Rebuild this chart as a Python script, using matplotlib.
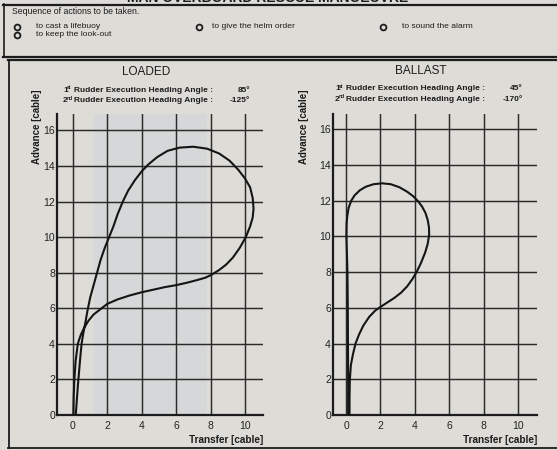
import matplotlib
matplotlib.use('Agg')
import matplotlib.pyplot as plt
from matplotlib.lines import Line2D

plt.rcParams['font.family'] = ['Liberation Sans', 'DejaVu Sans']

# ---------------- data ----------------
loaded_transfer = [0.02, 0.04, 0.08, 0.15, 0.28, 0.45, 0.65, 0.9, 1.2, 1.6, 2.0, 2.6, 3.3, 4.0,
                   4.7, 5.3, 6.0, 6.6, 7.2, 7.7, 8.05, 8.5, 8.9, 9.3, 9.7, 10.05, 10.3, 10.45,
                   10.5, 10.45, 10.3, 10.0, 9.6, 9.1, 8.5, 7.8, 7.0, 6.2, 5.5, 4.9, 4.4, 4.0,
                   3.6, 3.2, 2.9, 2.6, 2.35, 2.1, 1.85, 1.6, 1.4, 1.2, 1.0, 0.85, 0.72, 0.6,
                   0.5, 0.42, 0.35, 0.28, 0.22, 0.16]
loaded_advance = [0.0, 1.0, 2.0, 3.0, 4.0, 4.5, 4.9, 5.3, 5.65, 5.95, 6.25, 6.5, 6.72, 6.9,
                  7.05, 7.18, 7.3, 7.43, 7.58, 7.72, 7.88, 8.15, 8.45, 8.85, 9.4, 10.0, 10.6, 11.1,
                  11.6, 12.2, 12.8, 13.3, 13.8, 14.3, 14.7, 14.97, 15.08, 15.03, 14.85, 14.5, 14.1, 13.7,
                  13.2, 12.6, 12.0, 11.3, 10.6, 10.0, 9.4, 8.7, 8.0, 7.3, 6.6, 5.9, 5.2, 4.6,
                  4.0, 3.2, 2.4, 1.6, 0.8, 0.0]

ballast_transfer = [0.2, 0.2, 0.22, 0.28, 0.4, 0.55, 0.75, 1.0, 1.35, 1.7, 2.0, 2.4, 2.8, 3.2,
                    3.55, 3.85, 4.1, 4.35, 4.6, 4.75, 4.83, 4.82, 4.75, 4.62, 4.43, 4.2, 3.9, 3.55,
                    3.1, 2.6, 2.1, 1.6, 1.15, 0.8, 0.5, 0.3, 0.15, 0.07, 0.03, 0.02, 0.05, 0.08,
                    0.1, 0.11, 0.12, 0.12]
ballast_advance = [0.0, 1.0, 2.0, 2.8, 3.4, 4.0, 4.5, 5.0, 5.5, 5.85, 6.05, 6.3, 6.55, 6.85,
                   7.2, 7.6, 8.0, 8.5, 9.1, 9.6, 10.1, 10.5, 10.9, 11.3, 11.65, 11.95, 12.25, 12.5,
                   12.75, 12.92, 12.97, 12.92, 12.78, 12.58, 12.3, 12.0, 11.6, 11.15, 10.7, 10.0, 9.0, 8.0,
                   6.0, 4.0, 2.0, 0.0]

x_ticks = [0, 2, 4, 6, 8, 10]
y_ticks = [0, 2, 4, 6, 8, 10, 12, 14, 16]
panel_titles = ['LOADED', 'BALLAST']
first_angles = ['85°', '45°']
second_angles = ['-125°', '-170°']
actions = ['to cast a lifebuoy', 'to give the helm order', 'to sound the alarm', 'to keep the look-out']

# ---------------- layout helpers ----------------
W, H = 557, 450
BG = '#dddcd7'
INK = '#1c1c1c'

fig = plt.figure(figsize=(W / 100, H / 100), dpi=100)
fig.patch.set_facecolor(BG)


def fx(px):
    return px / W


def fy(py):
    return 1 - py / H


def ftext(px, py, s, **kw):
    kw.setdefault('color', INK)
    return fig.text(fx(px), fy(py), s, **kw)


def hline(x0, x1, y, lw=1.3):
    fig.add_artist(Line2D([fx(x0), fx(x1)], [fy(y), fy(y)], color=INK, lw=lw,
                          transform=fig.transFigure))


def vline(x, y0, y1, lw=1.3):
    fig.add_artist(Line2D([fx(x), fx(x)], [fy(y0), fy(y1)], color=INK, lw=lw,
                          transform=fig.transFigure))


# partially visible heading at top (cut by the page edge, as in the scan)
ftext(268, 2.4, 'MAN OVERBOARD RESCUE MANOEUVRE', ha='center', va='baseline',
      fontsize=10, fontweight='bold')

# top box
hline(3, 557, 4.5, lw=1.6)
vline(3.5, 4, 57, lw=1.2)
hline(3, 557, 57, lw=1.6)
ftext(12, 11, 'Sequence of actions to be taken.', ha='left', va='center', fontsize=6.3)
act_pos = [(17, 36, 27), (199, 212, 27), (383, 402, 27), (17, 36, 35)]
for (cx, tx, ty), lab in zip(act_pos, actions):
    fig.add_artist(Line2D([fx(cx)], [fy(ty)], marker='o', ms=4.2, mfc='none', mec=INK,
                          mew=1.3, transform=fig.transFigure))
    ftext(tx, ty, lab, ha='left', va='center', fontsize=6.1)

# chart box
hline(8, 557, 60, lw=1.6)
vline(8.5, 60, 448, lw=1.3)
hline(8, 557, 448, lw=1.3)

# ---------------- panels ----------------
panels = [
    dict(ax=(57, 263, 114, 415), xlim=(-0.93, 11.05), ylim=(0, 16.92),
         tx=loaded_transfer, ty=loaded_advance, title_x=146, title_y=72,
         sub_x0=63, sub_x1=250, sub_y=(92, 102.5), ylab_x=37),
    dict(ax=(333, 537, 114, 415), xlim=(-0.76, 11.1), ylim=(0, 16.85),
         tx=ballast_transfer, ty=ballast_advance, title_x=421, title_y=70.5,
         sub_x0=335, sub_x1=523, sub_y=(90.5, 101), ylab_x=304),
]

SUB_FS = 6.0
for i, p in enumerate(panels):
    x0, x1, ytop, ybot = p['ax']
    ax = fig.add_axes([fx(x0), fy(ybot), fx(x1) - fx(x0), (ybot - ytop) / H])
    ax.set_facecolor('none')
    if i == 0:
        ax.axvspan(1.2, 7.8, color='#cdd2da', alpha=0.45, lw=0, zorder=0)
    ax.set_xlim(*p['xlim'])
    ax.set_ylim(*p['ylim'])
    ax.set_xticks(x_ticks)
    ax.set_yticks(y_ticks)
    ax.grid(True, color='#2a2a2a', lw=1.05)
    ax.set_axisbelow(True)
    for s in ['top', 'right']:
        ax.spines[s].set_visible(False)
    for s in ['left', 'bottom']:
        ax.spines[s].set_linewidth(1.6)
        ax.spines[s].set_color(INK)
    ax.tick_params(axis='both', length=0, labelsize=7.5, colors='#222222')
    ax.tick_params(axis='y', pad=1.5)
    ax.tick_params(axis='x', pad=4)
    ax.plot(p['tx'], p['ty'], color='#151515', lw=1.5, solid_capstyle='round',
            solid_joinstyle='round', zorder=3)

    ftext(p['title_x'], p['title_y'], panel_titles[i], ha='center', va='center', fontsize=8.5)
    sx = p['sub_x0']
    for (num, sup, ang, sy) in [('1', 'st', first_angles[i], p['sub_y'][0]),
                                ('2', 'nd', second_angles[i], p['sub_y'][1])]:
        ftext(sx, sy, num, ha='left', va='baseline', fontsize=SUB_FS, fontweight='bold')
        ftext(sx + 3.6, sy - 2.8, sup, ha='left', va='baseline', fontsize=3.6, fontweight='bold')
        ftext(sx + 11, sy, 'Rudder Execution Heading Angle :', ha='left', va='baseline',
              fontsize=SUB_FS, fontweight='bold')
        ftext(p['sub_x1'], sy, ang, ha='right', va='baseline', fontsize=SUB_FS,
              fontweight='bold')

    ftext(p['ylab_x'], 90, 'Advance [cable]', rotation=90, ha='center', va='top',
          fontsize=7, fontweight='bold')
    ftext(x1, 440, 'Transfer [cable]', ha='right', va='center', fontsize=7.2,
          fontweight='bold')

fig.savefig('out.png', dpi=100, facecolor=BG)
